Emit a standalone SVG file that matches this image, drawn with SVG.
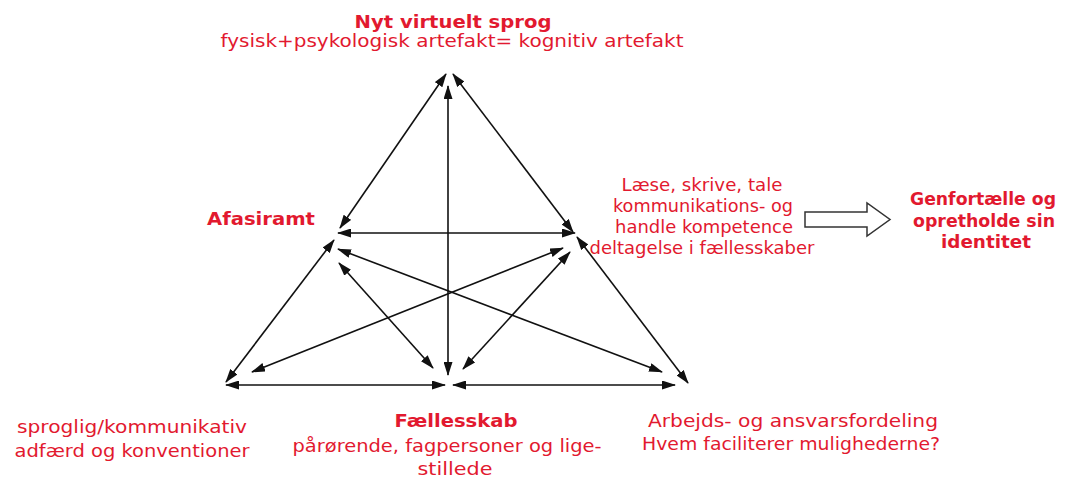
<svg xmlns="http://www.w3.org/2000/svg" width="1069" height="477" viewBox="0 0 1069 477">
<style>
text{font-family:"DejaVu Sans","Verdana",sans-serif;fill:#e2192f;text-anchor:middle}
.b{font-weight:bold;font-size:18px}
.n{font-size:18px}
.s{font-weight:bold;font-size:17.5px}
.c line{stroke:#111;stroke-width:1.6;marker-start:url(#ah);marker-end:url(#ah)}
</style>
<defs>
<marker id="ah" viewBox="0 0 14 9" refX="13" refY="4.5" markerWidth="14" markerHeight="9" markerUnits="userSpaceOnUse" orient="auto-start-reverse">
<path d="M0,0 L14,4.5 L0,9 z" fill="#111"/>
</marker>
</defs>
<rect width="1069" height="477" fill="#fff"/>
<g id="connectors" class="c">
<line x1="340" y1="228" x2="446" y2="74"/>
<line x1="573" y1="232" x2="453" y2="74"/>
<line x1="448" y1="375" x2="448" y2="86"/>
<line x1="338" y1="233" x2="575" y2="233"/>
<line x1="334" y1="240" x2="226" y2="382"/>
<line x1="577" y1="237" x2="688" y2="383"/>
<line x1="226" y1="385" x2="445" y2="385"/>
<line x1="453" y1="385" x2="675" y2="385"/>
<line x1="338" y1="249" x2="662" y2="372"/>
<line x1="563" y1="248" x2="252" y2="372"/>
<line x1="339" y1="263" x2="433" y2="368"/>
<line x1="570" y1="252" x2="463" y2="369"/>
</g>
<g id="hollow-arrow">
<path d="M805,212 L867,212 L867,203 L890,219.5 L867,236 L867,227 L805,227 z" fill="#fff" stroke="#333" stroke-width="1.5"/>
</g>
<g id="node-top">
<text class="b" x="453" y="28" textLength="197" lengthAdjust="spacingAndGlyphs">Nyt virtuelt sprog</text>
<text class="n" x="452" y="47" textLength="463" lengthAdjust="spacingAndGlyphs">fysisk+psykologisk artefakt= kognitiv artefakt</text>
</g>
<g id="node-afasiramt">
<text class="b" x="261" y="225" textLength="108" lengthAdjust="spacingAndGlyphs">Afasiramt</text>
</g>
<g id="node-competence">
<text class="n" x="702" y="191" textLength="161" lengthAdjust="spacingAndGlyphs">Læse, skrive, tale</text>
<text class="n" x="703" y="212" textLength="180" lengthAdjust="spacingAndGlyphs">kommunikations- og</text>
<text class="n" x="704" y="233" textLength="178" lengthAdjust="spacingAndGlyphs">handle kompetence</text>
<text class="n" x="702" y="254" textLength="225" lengthAdjust="spacingAndGlyphs">deltagelse i fællesskaber</text>
</g>
<g id="node-identity">
<text class="s" x="983" y="205" textLength="146" lengthAdjust="spacingAndGlyphs">Genfortælle og</text>
<text class="s" x="984" y="227" textLength="142" lengthAdjust="spacingAndGlyphs">opretholde sin</text>
<text class="s" x="986" y="248" textLength="90" lengthAdjust="spacingAndGlyphs">identitet</text>
</g>
<g id="node-sproglig">
<text class="n" x="132" y="433" textLength="230" lengthAdjust="spacingAndGlyphs">sproglig/kommunikativ</text>
<text class="n" x="132" y="457" textLength="235" lengthAdjust="spacingAndGlyphs">adfærd og konventioner</text>
</g>
<g id="node-faellesskab">
<text class="b" x="456" y="427" textLength="123" lengthAdjust="spacingAndGlyphs">Fællesskab</text>
<text class="n" x="447" y="452" textLength="309" lengthAdjust="spacingAndGlyphs">pårørende, fagpersoner og lige-</text>
<text class="n" x="455" y="475" textLength="75" lengthAdjust="spacingAndGlyphs">stillede</text>
</g>
<g id="node-arbejds">
<text class="n" x="793" y="427" textLength="290" lengthAdjust="spacingAndGlyphs">Arbejds- og ansvarsfordeling</text>
<text class="n" x="791" y="450" textLength="298" lengthAdjust="spacingAndGlyphs">Hvem faciliterer mulighederne?</text>
</g>
</svg>
